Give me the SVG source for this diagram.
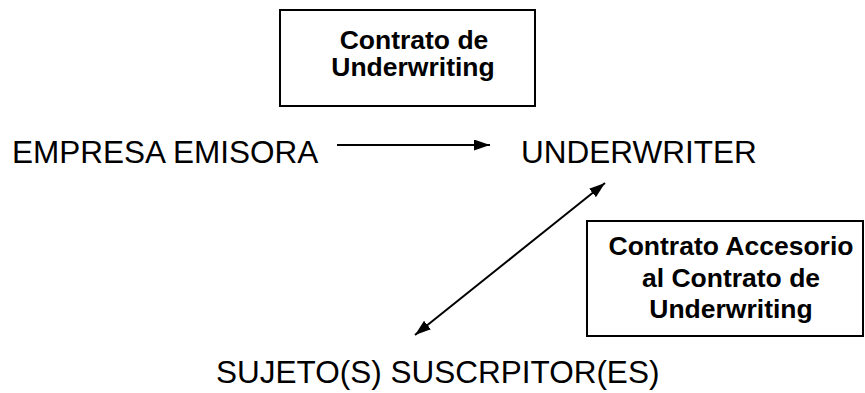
<svg xmlns="http://www.w3.org/2000/svg" width="865" height="393" viewBox="0 0 865 393">
<style>
.box{fill:#fff;stroke:#000;stroke-width:2}
.bt{font-family:"Liberation Sans",Arial,sans-serif;font-weight:bold;font-size:26.5px;fill:#000;text-anchor:middle}
.lt{font-family:"Liberation Sans",Arial,sans-serif;font-size:31.5px;fill:#000}
.conn{stroke:#000;stroke-width:2;fill:none}
</style>
<defs>
<marker id="ah" markerUnits="userSpaceOnUse" markerWidth="18" markerHeight="12" refX="16" refY="5.5" orient="auto-start-reverse" viewBox="0 0 18 12">
<path d="M0,0 L16,5.5 L0,11 z" fill="#000"/>
</marker>
</defs>
<rect width="865" height="393" fill="#fff"/>
<g id="contrato-underwriting">
<rect class="box" x="280" y="10" width="255" height="96"/>
<text class="bt" x="414" y="49">Contrato de</text>
<text class="bt" x="413" y="76">Underwriting</text>
</g>
<g id="contrato-accesorio">
<rect class="box" x="587" y="221" width="276" height="115"/>
<text class="bt" x="731" y="255">Contrato Accesorio</text>
<text class="bt" x="731" y="287">al Contrato de</text>
<text class="bt" x="731" y="318">Underwriting</text>
</g>
<g id="empresa-emisora">
<text class="lt" x="12" y="163">EMPRESA EMISORA</text>
</g>
<g id="underwriter">
<text class="lt" x="521" y="163">UNDERWRITER</text>
</g>
<g id="sujetos">
<text class="lt" x="216" y="383">SUJETO(S) SUSCRPITOR(ES)</text>
</g>
<g id="connectors">
<line class="conn" x1="337" y1="145" x2="490" y2="145" marker-end="url(#ah)"/>
<line class="conn" x1="415" y1="335" x2="605" y2="183" marker-start="url(#ah)" marker-end="url(#ah)"/>
</g>
</svg>
